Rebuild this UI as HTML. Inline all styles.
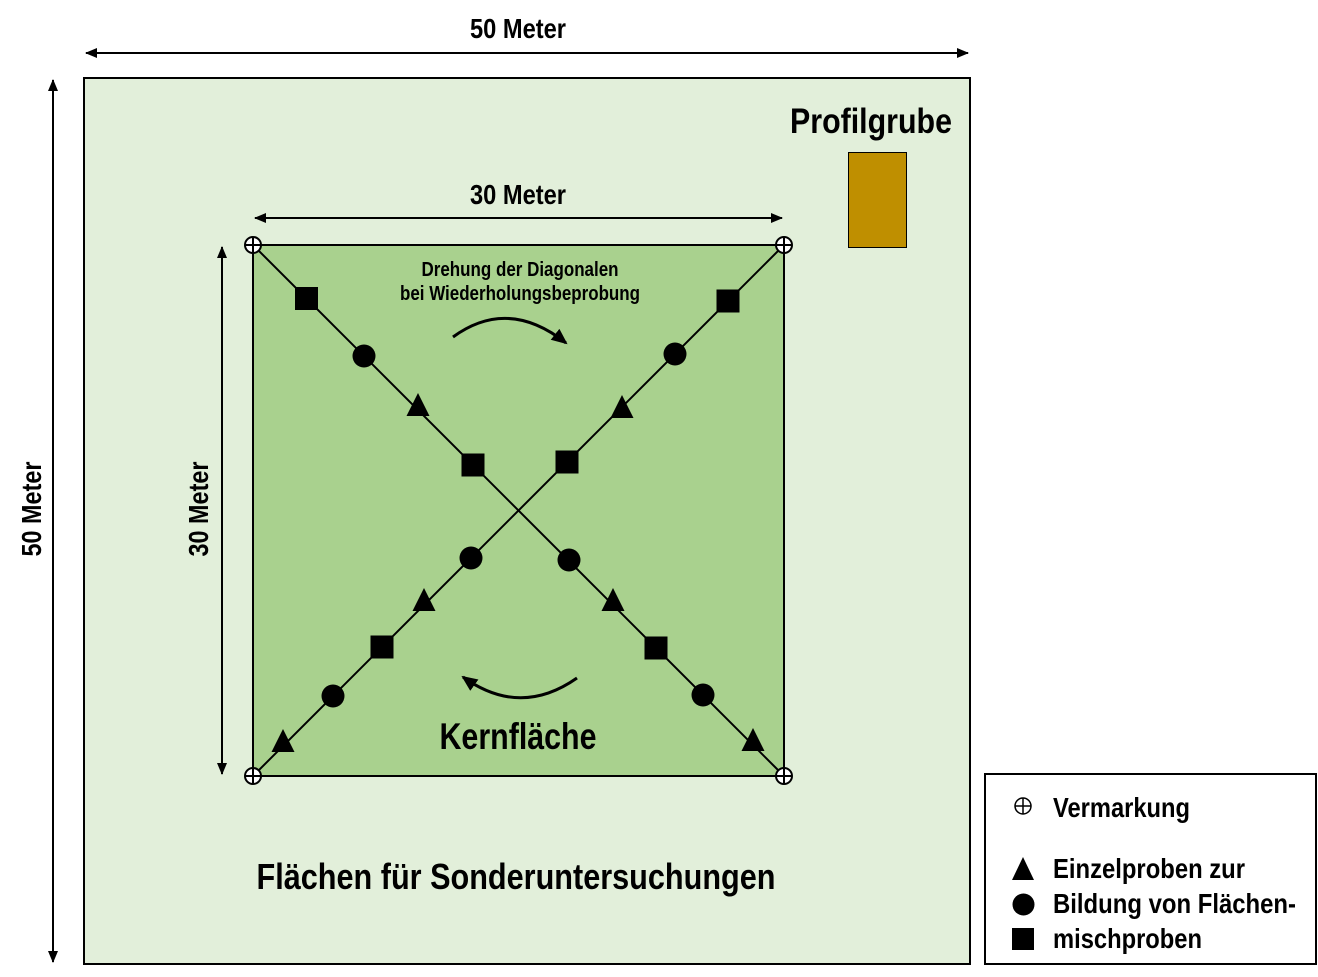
<!DOCTYPE html>
<html><head><meta charset="utf-8"><style>
html,body{margin:0;padding:0;background:#fff;}
svg{display:block;}
text{font-family:"Liberation Sans Narrow","Liberation Sans",Arial,sans-serif;font-weight:bold;fill:#000;}
</style></head><body>
<svg width="1318" height="977" viewBox="0 0 1318 977" xmlns="http://www.w3.org/2000/svg">
<defs>
<marker id="ah" viewBox="0 0 12 10" refX="11" refY="5" markerWidth="12" markerHeight="10" orient="auto-start-reverse" markerUnits="userSpaceOnUse"><path d="M0,0 L12,5 L0,10 z" fill="#000"/></marker>
<marker id="ah2" viewBox="0 0 16 14" refX="14" refY="7" markerWidth="16" markerHeight="14" orient="auto" markerUnits="userSpaceOnUse"><path d="M0,0 L16,7 L0,14 z" fill="#000"/></marker>
</defs>

<!-- outer area -->
<rect x="84" y="78" width="886" height="886" fill="#E2EFDA" stroke="#000" stroke-width="2"/>

<!-- outer dimension arrows -->
<line x1="86" y1="53" x2="968" y2="53" stroke="#000" stroke-width="2" marker-start="url(#ah)" marker-end="url(#ah)"/>
<line x1="53" y1="80" x2="53" y2="962" stroke="#000" stroke-width="2" marker-start="url(#ah)" marker-end="url(#ah)"/>
<text x="518" y="38" font-size="28" text-anchor="middle" textLength="96" lengthAdjust="spacingAndGlyphs">50 Meter</text>
<text transform="translate(41,509) rotate(-90)" x="0" y="0" font-size="28" text-anchor="middle" textLength="95" lengthAdjust="spacingAndGlyphs">50 Meter</text>

<!-- Profilgrube -->
<text x="871" y="133" font-size="35" text-anchor="middle" textLength="162" lengthAdjust="spacingAndGlyphs">Profilgrube</text>
<rect x="848.5" y="152.5" width="58" height="95" fill="#BF8F00" stroke="#000" stroke-width="1"/>

<!-- inner area -->
<rect x="253" y="245" width="531" height="531" fill="#A9D18E" stroke="#000" stroke-width="2"/>

<!-- inner dimension arrows -->
<line x1="255" y1="218" x2="782" y2="218" stroke="#000" stroke-width="2" marker-start="url(#ah)" marker-end="url(#ah)"/>
<line x1="222" y1="247" x2="222" y2="774" stroke="#000" stroke-width="2" marker-start="url(#ah)" marker-end="url(#ah)"/>
<text x="518" y="204" font-size="28" text-anchor="middle" textLength="96" lengthAdjust="spacingAndGlyphs">30 Meter</text>
<text transform="translate(208,509) rotate(-90)" x="0" y="0" font-size="28" text-anchor="middle" textLength="95" lengthAdjust="spacingAndGlyphs">30 Meter</text>

<!-- diagonals -->
<line x1="253" y1="245" x2="784" y2="776" stroke="#000" stroke-width="2"/>
<line x1="784" y1="245" x2="253" y2="776" stroke="#000" stroke-width="2"/>

<!-- TL-BR markers -->
<g fill="#000">
<rect x="295" y="287" width="23" height="23"/>
<circle cx="364" cy="356" r="11.5"/>
<polygon points="418,393 406.5,416 429.5,416"/>
<rect x="461.5" y="453.5" width="23" height="23"/>
<circle cx="569" cy="560" r="11.5"/>
<polygon points="613,588 601.5,611 624.5,611"/>
<rect x="644.5" y="636.5" width="23" height="23"/>
<circle cx="703" cy="695" r="11.5"/>
<polygon points="753,728 741.5,751 764.5,751"/>
</g>
<!-- TR-BL markers -->
<g fill="#000">
<rect x="716.5" y="289.5" width="23" height="23"/>
<circle cx="675" cy="354" r="11.5"/>
<polygon points="622,395 610.5,418 633.5,418"/>
<rect x="555.5" y="450.5" width="23" height="23"/>
<circle cx="471" cy="558" r="11.5"/>
<polygon points="424,588 412.5,611 435.5,611"/>
<rect x="370.5" y="635.5" width="23" height="23"/>
<circle cx="333" cy="696" r="11.5"/>
<polygon points="283,729 271.5,752 294.5,752"/>
</g>

<!-- corner crosshairs -->
<g stroke="#000" stroke-width="2" fill="#fff">
<circle cx="253" cy="245" r="8"/><line x1="245" y1="245" x2="261" y2="245"/><line x1="253" y1="237" x2="253" y2="253"/>
<circle cx="784" cy="245" r="8"/><line x1="776" y1="245" x2="792" y2="245"/><line x1="784" y1="237" x2="784" y2="253"/>
<circle cx="253" cy="776" r="8"/><line x1="245" y1="776" x2="261" y2="776"/><line x1="253" y1="768" x2="253" y2="784"/>
<circle cx="784" cy="776" r="8"/><line x1="776" y1="776" x2="792" y2="776"/><line x1="784" y1="768" x2="784" y2="784"/>
</g>

<!-- rotation text and arrows -->
<text x="520" y="276" font-size="20" text-anchor="middle" textLength="197" lengthAdjust="spacingAndGlyphs">Drehung der Diagonalen</text>
<text x="520" y="300" font-size="20" text-anchor="middle" textLength="240" lengthAdjust="spacingAndGlyphs">bei Wiederholungsbeprobung</text>
<path d="M453,337 Q508,297 566,343" fill="none" stroke="#000" stroke-width="3" marker-end="url(#ah2)"/>
<path d="M577,678 Q520,718 463,677" fill="none" stroke="#000" stroke-width="3" marker-end="url(#ah2)"/>

<text x="518" y="749" font-size="37" text-anchor="middle" textLength="157" lengthAdjust="spacingAndGlyphs">Kernfläche</text>

<text x="516" y="889" font-size="36" text-anchor="middle" textLength="519" lengthAdjust="spacingAndGlyphs">Flächen für Sonderuntersuchungen</text>

<!-- legend -->
<rect x="985" y="774" width="331" height="190" fill="#fff" stroke="#000" stroke-width="2"/>
<g stroke="#000" stroke-width="1.5" fill="none">
<circle cx="1023" cy="806" r="8"/><line x1="1015" y1="806" x2="1031" y2="806"/><line x1="1023" y1="798" x2="1023" y2="814"/>
</g>
<polygon points="1023,857 1012,880 1034,880" fill="#000"/>
<circle cx="1023.5" cy="904.5" r="11" fill="#000"/>
<rect x="1012" y="928" width="22" height="22" fill="#000"/>
<text x="1053" y="817" font-size="28" textLength="137" lengthAdjust="spacingAndGlyphs">Vermarkung</text>
<text x="1053" y="878" font-size="28" textLength="192" lengthAdjust="spacingAndGlyphs">Einzelproben zur</text>
<text x="1053" y="913" font-size="28" textLength="243" lengthAdjust="spacingAndGlyphs">Bildung von Flächen-</text>
<text x="1053" y="948" font-size="28" textLength="149" lengthAdjust="spacingAndGlyphs">mischproben</text>
</svg>
</body></html>
